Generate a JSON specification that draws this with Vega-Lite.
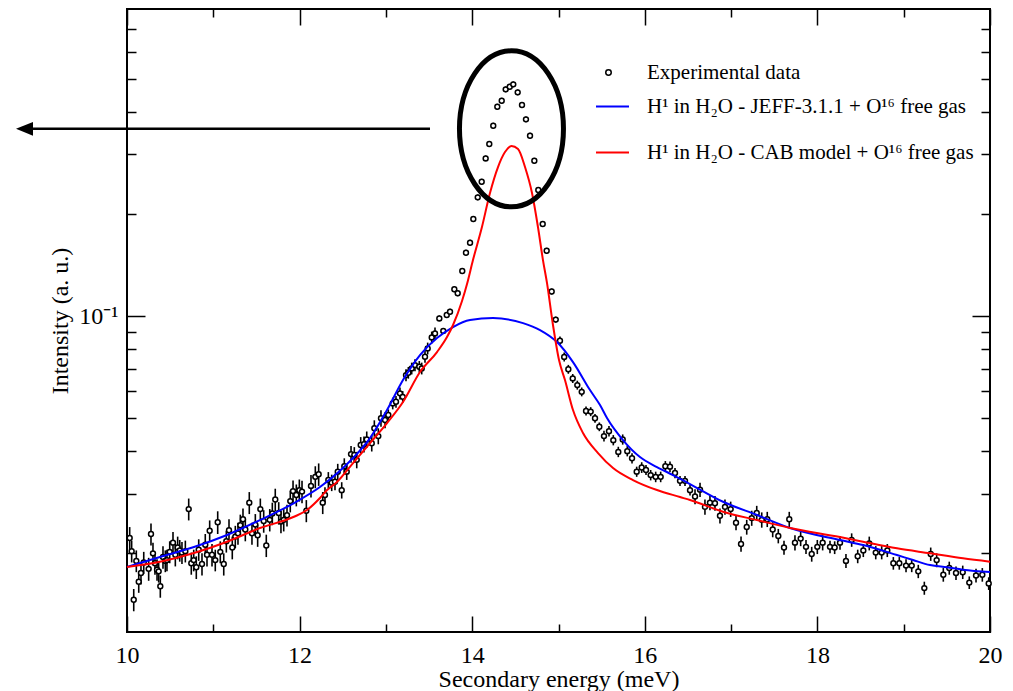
{
  "$schema": "https://vega.github.io/schema/vega-lite/v6.json",
  "width": 863,
  "height": 623,
  "autosize": {"type": "none"},
  "padding": {"left": 127, "top": 9, "right": 23, "bottom": 59},
  "background": "white",
  "config": {
    "font": "Liberation Serif",
    "view": {"stroke": "black", "strokeWidth": 2},
    "axis": {"domain": false, "grid": false, "tickColor": "black", "tickWidth": 1.5, "labelColor": "black", "titleColor": "black", "labelFont": "Liberation Serif", "titleFont": "Liberation Serif", "labelFontSize": 24, "titleFontSize": 24, "titleFontWeight": "normal", "labelFlush": false, "labelOverlap": false, "labelBound": false},
    "legend": {"labelFont": "Liberation Serif", "labelFontSize": 21, "labelColor": "black", "padding": 0, "titlePadding": 0, "labelLimit": 600}
  },
  "datasets": {
    "obs": [
      {"x":10.031,"y":0.0222,"e":0.0017},{"x":10.054,"y":0.0203,"e":0.0015},{"x":10.078,"y":0.0146,"e":0.0011},{"x":10.108,"y":0.0190,"e":0.0014},{"x":10.136,"y":0.0165,"e":0.0012},{"x":10.162,"y":0.0175,"e":0.0013},{"x":10.194,"y":0.0188,"e":0.0014},{"x":10.251,"y":0.0180,"e":0.0014},{"x":10.278,"y":0.0228,"e":0.0017},{"x":10.301,"y":0.0200,"e":0.0015},
      {"x":10.324,"y":0.0187,"e":0.0014},{"x":10.348,"y":0.0179,"e":0.0013},{"x":10.367,"y":0.0177,"e":0.0013},{"x":10.386,"y":0.0160,"e":0.0012},{"x":10.417,"y":0.0195,"e":0.0015},{"x":10.444,"y":0.0190,"e":0.0014},{"x":10.463,"y":0.0191,"e":0.0014},{"x":10.495,"y":0.0202,"e":0.0015},{"x":10.533,"y":0.0215,"e":0.0016},{"x":10.560,"y":0.0198,"e":0.0015},
      {"x":10.587,"y":0.0208,"e":0.0016},{"x":10.611,"y":0.0204,"e":0.0015},{"x":10.637,"y":0.0201,"e":0.0015},{"x":10.676,"y":0.0203,"e":0.0015},{"x":10.715,"y":0.0270,"e":0.0020},{"x":10.745,"y":0.0187,"e":0.0014},{"x":10.773,"y":0.0191,"e":0.0014},{"x":10.803,"y":0.0182,"e":0.0014},{"x":10.831,"y":0.0205,"e":0.0015},{"x":10.869,"y":0.0186,"e":0.0014},
      {"x":10.907,"y":0.0212,"e":0.0016},{"x":10.927,"y":0.0198,"e":0.0015},{"x":10.958,"y":0.0233,"e":0.0017},{"x":10.985,"y":0.0198,"e":0.0015},{"x":11.023,"y":0.0191,"e":0.0014},{"x":11.051,"y":0.0247,"e":0.0019},{"x":11.081,"y":0.0202,"e":0.0015},{"x":11.121,"y":0.0186,"e":0.0014},{"x":11.151,"y":0.0217,"e":0.0016},{"x":11.182,"y":0.0234,"e":0.0018},
      {"x":11.220,"y":0.0208,"e":0.0016},{"x":11.255,"y":0.0224,"e":0.0017},{"x":11.286,"y":0.0229,"e":0.0017},{"x":11.313,"y":0.0242,"e":0.0018},{"x":11.344,"y":0.0252,"e":0.0019},{"x":11.371,"y":0.0235,"e":0.0018},{"x":11.417,"y":0.0282,"e":0.0021},{"x":11.448,"y":0.0229,"e":0.0017},{"x":11.487,"y":0.0243,"e":0.0018},{"x":11.514,"y":0.0226,"e":0.0017},
      {"x":11.545,"y":0.0270,"e":0.0020},{"x":11.584,"y":0.0249,"e":0.0019},{"x":11.614,"y":0.0211,"e":0.0016},{"x":11.654,"y":0.0251,"e":0.0019},{"x":11.684,"y":0.0262,"e":0.0020},{"x":11.718,"y":0.0288,"e":0.0022},{"x":11.758,"y":0.0263,"e":0.0020},{"x":11.784,"y":0.0248,"e":0.0019},{"x":11.816,"y":0.0251,"e":0.0019},{"x":11.854,"y":0.0259,"e":0.0019},
      {"x":11.892,"y":0.0285,"e":0.0021},{"x":11.924,"y":0.0305,"e":0.0023},{"x":11.962,"y":0.0297,"e":0.0022},{"x":11.997,"y":0.0307,"e":0.0023},{"x":12.028,"y":0.0304,"e":0.0023},{"x":12.078,"y":0.0267,"e":0.0020},{"x":12.132,"y":0.0316,"e":0.0024},{"x":12.182,"y":0.0336,"e":0.0025},{"x":12.221,"y":0.0342,"e":0.0026},{"x":12.268,"y":0.0282,"e":0.0021},
      {"x":12.294,"y":0.0297,"e":0.0016},{"x":12.333,"y":0.0329,"e":0.0018},{"x":12.372,"y":0.0323,"e":0.0018},{"x":12.410,"y":0.0325,"e":0.0018},{"x":12.442,"y":0.0348,"e":0.0019},{"x":12.488,"y":0.0307,"e":0.0017},{"x":12.518,"y":0.0361,"e":0.0020},{"x":12.546,"y":0.0348,"e":0.0019},{"x":12.596,"y":0.0392,"e":0.0022},{"x":12.634,"y":0.0390,"e":0.0021},
      {"x":12.662,"y":0.0377,"e":0.0021},{"x":12.708,"y":0.0417,"e":0.0023},{"x":12.746,"y":0.0419,"e":0.0023},{"x":12.778,"y":0.0433,"e":0.0024},{"x":12.836,"y":0.0422,"e":0.0023},{"x":12.866,"y":0.0467,"e":0.0026},{"x":12.912,"y":0.0443,"e":0.0024},{"x":12.943,"y":0.0500,"e":0.0028},{"x":12.990,"y":0.0494,"e":0.0027},{"x":13.028,"y":0.0511,"e":0.0020},
      {"x":13.079,"y":0.0553,"e":0.0022},{"x":13.117,"y":0.0559,"e":0.0022},{"x":13.163,"y":0.0592,"e":0.0024},{"x":13.195,"y":0.0578,"e":0.0023},{"x":13.233,"y":0.0670,"e":0.0027},{"x":13.260,"y":0.0681,"e":0.0027},{"x":13.299,"y":0.0701,"e":0.0028},{"x":13.337,"y":0.0717,"e":0.0029},{"x":13.387,"y":0.0709,"e":0.0028},{"x":13.415,"y":0.0701,"e":0.0028},
      {"x":13.453,"y":0.0759,"e":0.0030},{"x":13.484,"y":0.0803,"e":0.0032},{"x":13.531,"y":0.0865,"e":0.0035},{"x":13.569,"y":0.0889,"e":0.0036},{"x":13.619,"y":0.0984,"e":0.0020},{"x":13.665,"y":0.0904,"e":0.0018},{"x":13.705,"y":0.1007,"e":0.0020},{"x":13.743,"y":0.1030,"e":0.0021},{"x":13.793,"y":0.1199,"e":0.0024},{"x":13.832,"y":0.1167,"e":0.0023},
      {"x":13.885,"y":0.1357,"e":0.0027},{"x":13.928,"y":0.1536,"e":0.0031},{"x":13.975,"y":0.1644,"e":0.0033},{"x":14.013,"y":0.1931,"e":0.0039},{"x":14.064,"y":0.2237,"e":0.0045},{"x":14.110,"y":0.2486,"e":0.0050},{"x":14.156,"y":0.2913,"e":0.0058},{"x":14.198,"y":0.3211,"e":0.0064},{"x":14.244,"y":0.3636,"e":0.0073},{"x":14.291,"y":0.4135,"e":0.0083},
      {"x":14.342,"y":0.4307,"e":0.0086},{"x":14.388,"y":0.4654,"e":0.0093},{"x":14.435,"y":0.4736,"e":0.0095},{"x":14.476,"y":0.4814,"e":0.0096},{"x":14.527,"y":0.4560,"e":0.0091},{"x":14.577,"y":0.4184,"e":0.0084},{"x":14.623,"y":0.3797,"e":0.0076},{"x":14.670,"y":0.3397,"e":0.0068},{"x":14.720,"y":0.2866,"e":0.0057},{"x":14.766,"y":0.2350,"e":0.0047},
      {"x":14.817,"y":0.1867,"e":0.0037},{"x":14.863,"y":0.1557,"e":0.0031},{"x":14.921,"y":0.1181,"e":0.0024},{"x":14.968,"y":0.0976,"e":0.0020},{"x":15.017,"y":0.0846,"e":0.0025},{"x":15.066,"y":0.0758,"e":0.0023},{"x":15.114,"y":0.0697,"e":0.0021},{"x":15.165,"y":0.0655,"e":0.0020},{"x":15.218,"y":0.0626,"e":0.0019},{"x":15.269,"y":0.0598,"e":0.0018},
      {"x":15.319,"y":0.0525,"e":0.0016},{"x":15.373,"y":0.0523,"e":0.0016},{"x":15.423,"y":0.0500,"e":0.0015},{"x":15.473,"y":0.0472,"e":0.0014},{"x":15.527,"y":0.0443,"e":0.0016},{"x":15.585,"y":0.0458,"e":0.0016},{"x":15.635,"y":0.0431,"e":0.0015},{"x":15.693,"y":0.0398,"e":0.0014},{"x":15.744,"y":0.0433,"e":0.0015},{"x":15.797,"y":0.0400,"e":0.0014},
      {"x":15.852,"y":0.0381,"e":0.0013},{"x":15.906,"y":0.0348,"e":0.0012},{"x":15.964,"y":0.0358,"e":0.0013},{"x":16.014,"y":0.0352,"e":0.0012},{"x":16.068,"y":0.0340,"e":0.0012},{"x":16.126,"y":0.0336,"e":0.0012},{"x":16.184,"y":0.0336,"e":0.0012},{"x":16.238,"y":0.0361,"e":0.0013},{"x":16.292,"y":0.0360,"e":0.0013},{"x":16.350,"y":0.0345,"e":0.0012},
      {"x":16.408,"y":0.0327,"e":0.0011},{"x":16.466,"y":0.0327,"e":0.0011},{"x":16.524,"y":0.0307,"e":0.0011},{"x":16.582,"y":0.0294,"e":0.0015},{"x":16.640,"y":0.0308,"e":0.0015},{"x":16.697,"y":0.0274,"e":0.0014},{"x":16.755,"y":0.0282,"e":0.0014},{"x":16.813,"y":0.0281,"e":0.0014},{"x":16.871,"y":0.0258,"e":0.0013},{"x":16.929,"y":0.0274,"e":0.0014},
      {"x":16.995,"y":0.0270,"e":0.0014},{"x":17.057,"y":0.0246,"e":0.0012},{"x":17.115,"y":0.0213,"e":0.0011},{"x":17.181,"y":0.0239,"e":0.0012},{"x":17.239,"y":0.0254,"e":0.0013},{"x":17.297,"y":0.0263,"e":0.0013},{"x":17.355,"y":0.0251,"e":0.0013},{"x":17.419,"y":0.0252,"e":0.0013},{"x":17.482,"y":0.0235,"e":0.0012},{"x":17.547,"y":0.0225,"e":0.0011},
      {"x":17.613,"y":0.0208,"e":0.0010},{"x":17.674,"y":0.0252,"e":0.0013},{"x":17.740,"y":0.0215,"e":0.0011},{"x":17.806,"y":0.0221,"e":0.0011},{"x":17.868,"y":0.0209,"e":0.0010},{"x":17.934,"y":0.0199,"e":0.0010},{"x":17.999,"y":0.0209,"e":0.0010},{"x":18.061,"y":0.0215,"e":0.0011},{"x":18.146,"y":0.0209,"e":0.0009},{"x":18.200,"y":0.0208,"e":0.0009},
      {"x":18.262,"y":0.0215,"e":0.0010},{"x":18.331,"y":0.0190,"e":0.0009},{"x":18.397,"y":0.0219,"e":0.0010},{"x":18.467,"y":0.0196,"e":0.0009},{"x":18.532,"y":0.0204,"e":0.0009},{"x":18.601,"y":0.0214,"e":0.0010},{"x":18.676,"y":0.0201,"e":0.0009},{"x":18.745,"y":0.0201,"e":0.0009},{"x":18.810,"y":0.0204,"e":0.0009},{"x":18.880,"y":0.0187,"e":0.0008},
      {"x":18.949,"y":0.0187,"e":0.0008},{"x":19.027,"y":0.0184,"e":0.0008},{"x":19.093,"y":0.0184,"e":0.0008},{"x":19.169,"y":0.0177,"e":0.0008},{"x":19.239,"y":0.0158,"e":0.0007},{"x":19.313,"y":0.0199,"e":0.0009},{"x":19.382,"y":0.0191,"e":0.0009},{"x":19.459,"y":0.0173,"e":0.0008},{"x":19.528,"y":0.0181,"e":0.0008},{"x":19.606,"y":0.0175,"e":0.0008},
      {"x":19.684,"y":0.0176,"e":0.0008},{"x":19.760,"y":0.0164,"e":0.0007},{"x":19.838,"y":0.0172,"e":0.0008},{"x":19.911,"y":0.0173,"e":0.0008},{"x":19.985,"y":0.0163,"e":0.0007}
    ],
    "curves": [
      {"m":"JEFF","x":10,"y":0.01823},{"m":"JEFF","x":10.382,"y":0.0195},{"m":"JEFF","x":10.776,"y":0.02087},{"m":"JEFF","x":11.159,"y":0.02265},{"m":"JEFF","x":11.541,"y":0.02506},{"m":"JEFF","x":11.935,"y":0.02813},{"m":"JEFF","x":12.236,"y":0.03135},{"m":"JEFF","x":12.619,"y":0.03817},{"m":"JEFF","x":12.816,"y":0.04371},{"m":"JEFF","x":13.013,"y":0.05285},
      {"m":"JEFF","x":13.198,"y":0.06478},{"m":"JEFF","x":13.395,"y":0.07675},{"m":"JEFF","x":13.592,"y":0.08614},{"m":"JEFF","x":13.778,"y":0.09281},{"m":"JEFF","x":13.975,"y":0.0973},{"m":"JEFF","x":14.241,"y":0.0986},{"m":"JEFF","x":14.589,"y":0.09534},{"m":"JEFF","x":14.786,"y":0.09094},{"m":"JEFF","x":14.983,"y":0.08382},{"m":"JEFF","x":15.168,"y":0.07319},
      {"m":"JEFF","x":15.365,"y":0.06053},{"m":"JEFF","x":15.481,"y":0.05467},{"m":"JEFF","x":15.562,"y":0.05007},{"m":"JEFF","x":15.747,"y":0.04312},{"m":"JEFF","x":15.944,"y":0.03843},{"m":"JEFF","x":16.141,"y":0.0359},{"m":"JEFF","x":16.327,"y":0.03401},{"m":"JEFF","x":16.524,"y":0.032},{"m":"JEFF","x":16.906,"y":0.02838},{"m":"JEFF","x":17.3,"y":0.02594},
      {"m":"JEFF","x":17.683,"y":0.02375},{"m":"JEFF","x":18.262,"y":0.02189},{"m":"JEFF","x":18.529,"y":0.02116},{"m":"JEFF","x":18.922,"y":0.01977},{"m":"JEFF","x":19.108,"y":0.01911},{"m":"JEFF","x":19.305,"y":0.01847},{"m":"JEFF","x":19.502,"y":0.01819},{"m":"JEFF","x":19.687,"y":0.0179},{"m":"JEFF","x":20,"y":0.01762},
      {"m":"CAB","x":10,"y":0.01823},{"m":"CAB","x":10.382,"y":0.01889},{"m":"CAB","x":10.776,"y":0.02004},{"m":"CAB","x":11.159,"y":0.02164},{"m":"CAB","x":11.541,"y":0.02375},{"m":"CAB","x":11.935,"y":0.02563},{"m":"CAB","x":12.086,"y":0.02683},{"m":"CAB","x":12.236,"y":0.0291},{"m":"CAB","x":12.318,"y":0.03072},{"m":"CAB","x":12.433,"y":0.03244},
      {"m":"CAB","x":12.619,"y":0.03689},{"m":"CAB","x":12.816,"y":0.04225},{"m":"CAB","x":13.013,"y":0.04839},{"m":"CAB","x":13.198,"y":0.0558},{"m":"CAB","x":13.395,"y":0.06839},{"m":"CAB","x":13.592,"y":0.07833},{"m":"CAB","x":13.708,"y":0.0867},{"m":"CAB","x":13.778,"y":0.0941},{"m":"CAB","x":13.882,"y":0.1107},{"m":"CAB","x":13.94,"y":0.1242},
      {"m":"CAB","x":14.009,"y":0.1462},{"m":"CAB","x":14.113,"y":0.1829},{"m":"CAB","x":14.206,"y":0.2303},{"m":"CAB","x":14.299,"y":0.2747},{"m":"CAB","x":14.38,"y":0.3041},{"m":"CAB","x":14.455,"y":0.3168},{"m":"CAB","x":14.531,"y":0.3104},{"m":"CAB","x":14.612,"y":0.2747},{"m":"CAB","x":14.693,"y":0.2303},{"m":"CAB","x":14.762,"y":0.1829},
      {"m":"CAB","x":14.82,"y":0.1462},{"m":"CAB","x":14.867,"y":0.125},{"m":"CAB","x":14.936,"y":0.0941},{"m":"CAB","x":15.006,"y":0.07419},{"m":"CAB","x":15.075,"y":0.06478},{"m":"CAB","x":15.168,"y":0.05285},{"m":"CAB","x":15.284,"y":0.04522},{"m":"CAB","x":15.458,"y":0.03949},{"m":"CAB","x":15.632,"y":0.03566},{"m":"CAB","x":15.863,"y":0.03288},
      {"m":"CAB","x":16.141,"y":0.03072},{"m":"CAB","x":16.408,"y":0.0293},{"m":"CAB","x":16.524,"y":0.02871},{"m":"CAB","x":16.906,"y":0.02652},{"m":"CAB","x":17.3,"y":0.02506},{"m":"CAB","x":17.683,"y":0.02375},{"m":"CAB","x":18.262,"y":0.02234},{"m":"CAB","x":18.529,"y":0.02164},{"m":"CAB","x":18.922,"y":0.02069},{"m":"CAB","x":19.305,"y":0.02},
      {"m":"CAB","x":19.687,"y":0.01933},{"m":"CAB","x":20,"y":0.01889}
    ],
    "ellipse": [{"x": 14.455, "y": 0.356}],
    "arrowline": [{"x": 8.911, "x2": 13.511, "y": 0.356}],
    "arrowhead": [{"x": 8.812, "y": 0.356}]
  },
  "resolve": {"axis": {"x": "independent", "y": "independent"}},
  "layer": [
    {
      "data": {"name": "obs"},
      "mark": {"type": "errorbar", "color": "black", "thickness": 1.6},
      "encoding": {
        "x": {"field": "x", "type": "quantitative", "scale": {"domain": [10, 20], "nice": false, "zero": false}, "axis": null},
        "y": {"field": "y", "type": "quantitative", "scale": {"type": "log", "domain": [0.01173, 0.8025], "nice": false}, "axis": null},
        "yError": {"field": "e"}
      }
    },
    {
      "data": {"name": "obs"},
      "mark": {"type": "point", "filled": true, "fill": "white", "strokeWidth": 1.5, "size": 24, "opacity": 1},
      "encoding": {
        "x": {"field": "x", "type": "quantitative", "scale": {"domain": [10, 20], "nice": false, "zero": false},
              "axis": {"orient": "bottom", "values": [10, 12, 14, 16, 18, 20], "tickSize": -16, "labelPadding": 27, "title": "Secondary energy (meV)", "titlePadding": 0}},
        "y": {"field": "y", "type": "quantitative", "scale": {"type": "log", "domain": [0.01173, 0.8025], "nice": false},
              "axis": {"orient": "left", "values": [0.1], "tickSize": -18, "labelPadding": 27, "labelExpr": "'10⁻¹'", "title": "Intensity (a. u.)", "titlePadding": 6}},
        "stroke": {"datum": "Experimental data", "scale": {"range": ["black"]},
                  "legend": {"orient": "none", "legendX": 471, "legendY": 53, "title": null, "symbolType": "circle", "symbolSize": 30, "symbolFillColor": "white", "symbolStrokeWidth": 1.5, "symbolOpacity": 1, "labelOffset": 28}}
      }
    },
    {
      "data": {"name": "curves"},
      "mark": {"type": "line", "strokeWidth": 2, "interpolate": "monotone"},
      "encoding": {
        "x": {"field": "x", "type": "quantitative", "scale": {"domain": [10, 20], "nice": false, "zero": false},
              "axis": {"orient": "bottom", "values": [11, 13, 15, 17, 19], "tickSize": -8, "labels": false, "title": null}},
        "y": {"field": "y", "type": "quantitative", "scale": {"type": "log", "domain": [0.01173, 0.8025], "nice": false},
              "axis": {"orient": "left", "values": [0.02, 0.03, 0.04, 0.05, 0.06, 0.07, 0.08, 0.09, 0.2, 0.3, 0.4, 0.5, 0.6, 0.7], "tickSize": -9, "labels": false, "title": null}},
        "color": {"field": "m", "type": "nominal", "scale": {"domain": ["JEFF", "CAB"], "range": ["#0000ff", "#ff0000"]},
                  "legend": {"orient": "none", "legendX": 468, "legendY": 80, "title": null, "symbolType": "stroke", "symbolSize": 1089, "symbolStrokeWidth": 2, "labelOffset": 17, "rowPadding": 18,
                             "labelExpr": "datum.value == 'JEFF' ? 'H¹ in H₂O - JEFF-3.1.1  + O¹⁶ free gas' : 'H¹ in H₂O - CAB model + O¹⁶ free gas'"}}
      }
    },
    {
      "data": {"name": "ellipse"},
      "mark": {"type": "point", "shape": "M1,0 C1,0.8285 0.5523,1.5 0,1.5 C-0.5523,1.5 -1,0.8285 -1,0 C-1,-0.8285 -0.5523,-1.5 0,-1.5 C0.5523,-1.5 1,-0.8285 1,0 Z", "size": 10816, "filled": false, "stroke": "black", "strokeWidth": 5, "opacity": 1},
      "encoding": {
        "x": {"field": "x", "type": "quantitative", "scale": {"domain": [10, 20], "nice": false, "zero": false},
              "axis": {"orient": "top", "values": [10, 12, 14, 16, 18, 20], "tickSize": -16, "labels": false, "title": null}},
        "y": {"field": "y", "type": "quantitative", "scale": {"type": "log", "domain": [0.01173, 0.8025], "nice": false},
              "axis": {"orient": "right", "values": [0.1], "tickSize": -18, "labels": false, "title": null}}
      }
    },
    {
      "data": {"name": "arrowline"},
      "mark": {"type": "rule", "strokeWidth": 2.5, "color": "black"},
      "encoding": {
        "x": {"field": "x", "type": "quantitative", "scale": {"domain": [10, 20], "nice": false, "zero": false}, "axis": null},
        "x2": {"field": "x2"},
        "y": {"field": "y", "type": "quantitative", "scale": {"type": "log", "domain": [0.01173, 0.8025], "nice": false}, "axis": null}
      }
    },
    {
      "data": {"name": "arrowhead"},
      "mark": {"type": "point", "shape": "M-1,0 L1,-0.8 L1,0.8 Z", "size": 289, "filled": true, "fill": "black", "strokeWidth": 0, "opacity": 1},
      "encoding": {
        "x": {"field": "x", "type": "quantitative", "scale": {"domain": [10, 20], "nice": false, "zero": false},
              "axis": {"orient": "top", "values": [11, 13, 15, 17, 19], "tickSize": -8, "labels": false, "title": null}},
        "y": {"field": "y", "type": "quantitative", "scale": {"type": "log", "domain": [0.01173, 0.8025], "nice": false},
              "axis": {"orient": "right", "values": [0.02, 0.03, 0.04, 0.05, 0.06, 0.07, 0.08, 0.09, 0.2, 0.3, 0.4, 0.5, 0.6, 0.7], "tickSize": -9, "labels": false, "title": null}}
      }
    }
  ]
}
